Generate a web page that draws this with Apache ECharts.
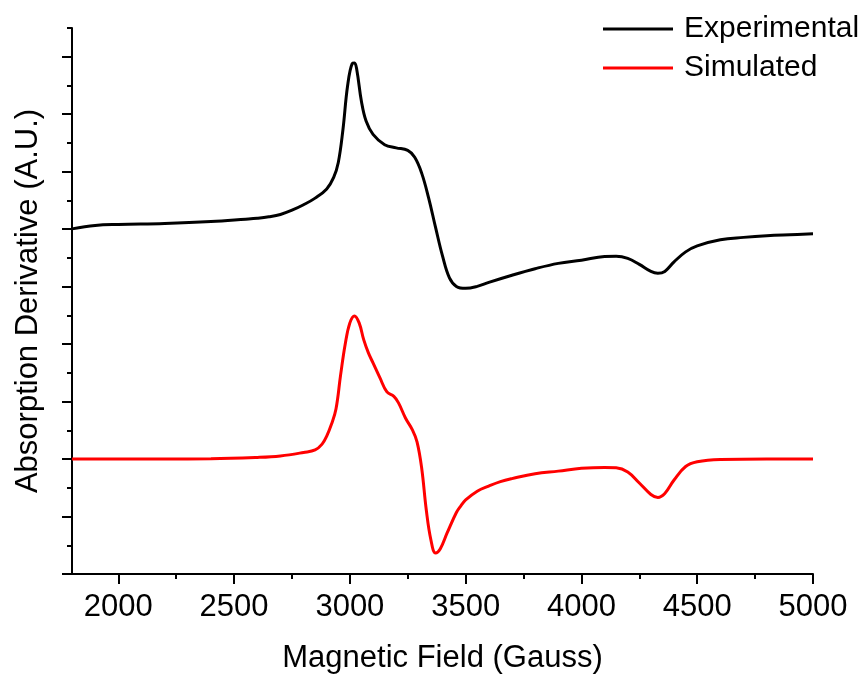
<!DOCTYPE html>
<html>
<head>
<meta charset="utf-8">
<script src="https://cdn.jsdelivr.net/npm/echarts@6/dist/echarts.min.js"></script>
<style>html,body{margin:0;padding:0;background:#fff}#chart{width:867px;height:675px}</style>
</head>
<body>
<div id="chart"></div>
<script>
// Experimental spectrum (field in Gauss, derivative in arbitrary units with offset)
const expField = [1800,1900,2000,2200,2400,2550,2600,2650,2700,2750,2800,2850,2900,2930,2950,2970,2990,3010,3020,3030,3050,3070,3100,3150,3200,3250,3280,3310,3340,3370,3400,3430,3460,3500,3550,3600,3700,3800,3900,4000,4100,4150,4200,4250,4300,4330,4360,4400,4450,4500,4600,4700,4800,4900,5000];
const expValues = [6.005,6.064,6.082,6.099,6.132,6.174,6.19,6.215,6.255,6.33,6.425,6.54,6.70,6.90,7.16,7.73,8.49,8.88,8.89,8.77,8.22,7.88,7.65,7.47,7.415,7.37,7.25,6.975,6.545,6.031,5.535,5.152,5.004,4.970,5.004,5.074,5.199,5.312,5.405,5.460,5.526,5.530,5.492,5.387,5.265,5.234,5.265,5.431,5.605,5.709,5.814,5.857,5.887,5.904,5.918];

// Simulated spectrum
const simField = [1800,2200,2400,2600,2700,2800,2850,2880,2900,2920,2940,2960,2980,3000,3020,3040,3060,3080,3100,3130,3160,3190,3210,3240,3270,3290,3310,3330,3350,3370,3390,3420,3460,3480,3500,3550,3600,3650,3700,3800,3900,4000,4100,4150,4200,4250,4300,4330,4360,4400,4450,4500,4600,4800,5000];
const simValues = [2.002,2.002,2.005,2.028,2.054,2.115,2.158,2.26,2.40,2.60,2.87,3.464,4.003,4.369,4.491,4.369,4.073,3.847,3.673,3.412,3.168,3.090,2.977,2.715,2.507,2.298,1.845,1.114,0.592,0.366,0.435,0.714,1.07,1.19,1.288,1.44,1.53,1.607,1.66,1.745,1.79,1.838,1.855,1.849,1.775,1.584,1.384,1.332,1.401,1.636,1.871,1.953,1.993,2.002,2.002];

const seriesNames = ['Experimental', 'Simulated'];
const xTickValues = [2000,2500,3000,3500,4000,4500,5000];
const xMinorTickValues = [2250,2750,3250,3750,4250,4750];
const yTickValues = [0,1,2,3,4,5,6,7,8,9];
const yMinorTickValues = [0.5,1.5,2.5,3.5,4.5,5.5,6.5,7.5,8.5,9.5];

const FONT = 'Liberation Sans, Arial, sans-serif';
const chart = echarts.init(document.getElementById('chart'), null, {renderer: 'canvas'});
const zip = (xs, ys) => xs.map((x, i) => [x, ys[i]]);

chart.setOption({
  animation: false,
  backgroundColor: '#fff',
  grid: {left: 72, right: 54, top: 28, bottom: 101, containLabel: false, outerBoundsMode: 'none'},
  legend: {
    data: seriesNames,
    orient: 'vertical',
    left: 603, top: 14, padding: 0,
    icon: 'rect',
    itemWidth: 70, itemHeight: 3, itemGap: 9,
    textStyle: {fontFamily: FONT, fontSize: 30, color: '#000', lineHeight: 30, padding: [0, 0, 0, 6]}
  },
  xAxis: [{
    type: 'value', min: 1800, max: 5000, position: 'bottom',
    name: 'Magnetic Field (Gauss)', nameLocation: 'middle', nameGap: 69,
    nameTextStyle: {fontFamily: FONT, fontSize: 31, color: '#000'},
    axisLine: {show: true, lineStyle: {color: '#000', width: 2}},
    axisTick: {show: true, length: 10, customValues: xTickValues, lineStyle: {color: '#000', width: 2}},
    axisLabel: {show: true, customValues: xTickValues, margin: 18, fontFamily: FONT, fontSize: 31, color: '#000', formatter: v => String(v)},
    splitLine: {show: false}
  }, {
    type: 'value', min: 1800, max: 5000, position: 'bottom',
    axisLine: {show: false},
    axisTick: {show: true, length: 5, customValues: xMinorTickValues, lineStyle: {color: '#000', width: 2}},
    axisLabel: {show: false},
    splitLine: {show: false}
  }],
  yAxis: [{
    type: 'value', min: 0, max: 9.5, position: 'left',
    name: 'Absorption Derivative (A.U.)', nameLocation: 'middle', nameGap: 28,
    nameTextStyle: {fontFamily: FONT, fontSize: 31, color: '#000'},
    axisLine: {show: true, lineStyle: {color: '#000', width: 2}},
    axisTick: {show: true, length: 10, customValues: yTickValues, lineStyle: {color: '#000', width: 2}},
    axisLabel: {show: false},
    splitLine: {show: false}
  }, {
    type: 'value', min: 0, max: 9.5, position: 'left', offset: 0,
    axisLine: {show: false},
    axisTick: {show: true, length: 5, customValues: yMinorTickValues, lineStyle: {color: '#000', width: 2}},
    axisLabel: {show: false},
    splitLine: {show: false}
  }],
  series: [{
    name: seriesNames[0], type: 'line', xAxisIndex: 0, yAxisIndex: 0,
    data: zip(expField, expValues), symbol: 'none', smooth: 0.4,
    lineStyle: {color: '#000', width: 3}, itemStyle: {color: '#000'}
  }, {
    name: seriesNames[1], type: 'line', xAxisIndex: 0, yAxisIndex: 0,
    data: zip(simField, simValues), symbol: 'none', smooth: 0.4,
    lineStyle: {color: '#ff0000', width: 3}, itemStyle: {color: '#ff0000'}
  }]
});
</script>
</body>
</html>
